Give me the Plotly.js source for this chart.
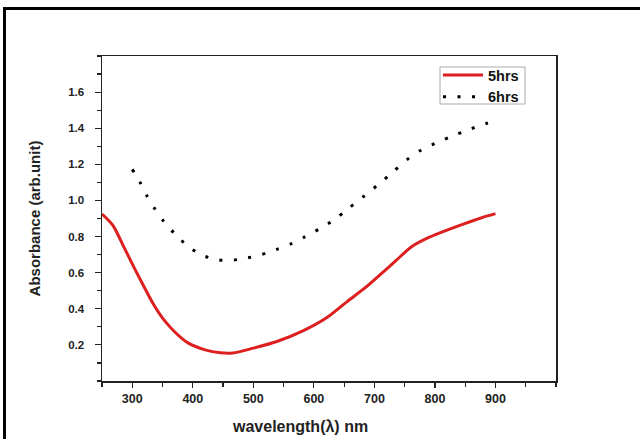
<!DOCTYPE html>
<html>
<head>
<meta charset="utf-8">
<script src="https://cdn.plot.ly/plotly-3.0.1.min.js"></script>
<style>html,body{margin:0;padding:0;background:#fff;}#chart{width:640px;height:439px;}</style>
</head>
<body>
<div id="chart"></div>
<script>
// 5hrs series
var wl5 = [250,268,285,302,319,335,352,372,392,419,446,466,500,540,581,621,655,688,710,735,762,790,820,849,876,900];
var abs5 = [0.925,0.862,0.75,0.635,0.525,0.425,0.34,0.266,0.211,0.174,0.156,0.155,0.182,0.22,0.276,0.35,0.44,0.525,0.59,0.665,0.745,0.795,0.836,0.872,0.903,0.927];
// 6hrs series
var wl6 = [300,312,323,337,352,370,392,416,441,464,489,513,538,562,585,610,634,657,681,706,730,754,778,802,826,849,874,898];
var abs6 = [1.172,1.106,1.032,0.955,0.884,0.816,0.746,0.696,0.672,0.669,0.681,0.70,0.728,0.759,0.798,0.844,0.894,0.955,1.019,1.087,1.156,1.226,1.281,1.318,1.353,1.383,1.414,1.44];
// tick labels
var xTicks = [300,400,500,600,700,800,900];
var yTicks = [0.2,0.4,0.6,0.8,1.0,1.2,1.4,1.6];
var yTickText = ['0.2','0.4','0.6','0.8','1.0','1.2','1.4','1.6'];
var seriesNames = ['5hrs','6hrs'];
var xTitle = 'wavelength(λ) nm';
var yTitle = 'Absorbance (arb.unit)';

var F = '"Liberation Sans", Arial, sans-serif';
var traces = [
  {x: wl5, y: abs5, name: seriesNames[0], mode: 'lines',
   line: {color: '#dd1f1f', width: 3, shape: 'spline', smoothing: 0.8}},
  {x: wl6, y: abs6, name: seriesNames[1], mode: 'lines',
   line: {color: '#000', width: 3, dash: '3px,11.5px', shape: 'spline', smoothing: 0.8}}
];
var L = 102, R = 84, T = 56, B = 58;
var W = 640 - L - R, H = 439 - T - B;
function px(x){return (x - L) / W;}
function py(y){return (439 - B - y) / H;}
var layout = {
  width: 640, height: 439,
  margin: {l: L, r: R, t: T, b: B},
  paper_bgcolor: '#fff', plot_bgcolor: '#fff',
  showlegend: true,
  legend: {x: px(438), y: py(59), xanchor: 'left', yanchor: 'top',
    borderwidth: 0, bgcolor: 'rgba(0,0,0,0)', itemwidth: 40,
    font: {family: F, size: 14.5, color: '#111', weight: 'bold'},
    tracegroupgap: 0},
  xaxis: {range: [250, 1000], tickvals: xTicks, ticks: 'outside', ticklen: 5, tickwidth: 1.2,
    tickcolor: '#222', showline: true, linecolor: '#222', linewidth: 1.5, mirror: true,
    showgrid: false, zeroline: false,
    tickfont: {family: F, size: 12.5, color: '#222', weight: 'bold'},
    minor: {dtick: 50, tick0: 250, ticks: 'outside', ticklen: 4, tickwidth: 1.2, tickcolor: '#222'}},
  yaxis: {range: [0, 1.8], tickvals: yTicks, ticktext: yTickText, ticks: 'outside', ticklen: 6, tickwidth: 1.2,
    tickcolor: '#222', showline: true, linecolor: '#222', linewidth: 1.5, mirror: true,
    showgrid: false, zeroline: false, ticklabelstandoff: 8,
    tickfont: {family: F, size: 11.5, color: '#222', weight: 'bold'},
    minor: {dtick: 0.1, tick0: 0, ticks: 'outside', ticklen: 4, tickwidth: 1.2, tickcolor: '#222'},
    title: {text: yTitle, standoff: 24, font: {family: F, size: 15, color: '#222', weight: 'bold'}}},
  annotations: [
    {text: xTitle, xref: 'paper', yref: 'paper', x: px(300), y: py(426), xanchor: 'center', yanchor: 'middle',
     showarrow: false, font: {family: F, size: 16, color: '#222', weight: 'bold'}}
  ],
  shapes: [
    {type: 'line', xref: 'paper', yref: 'paper', x0: px(3), x1: px(641), y0: py(8.5), y1: py(8.5), line: {color: '#000', width: 3}},
    {type: 'line', xref: 'paper', yref: 'paper', x0: px(4.5), x1: px(4.5), y0: py(7), y1: py(440), line: {color: '#000', width: 3}},
    {type: 'rect', xref: 'paper', yref: 'paper', x0: px(440), x1: px(525), y0: py(67), y1: py(104), line: {color: '#aaa', width: 1}}
  ]
};
Plotly.newPlot('chart', traces, layout, {displayModeBar: false, staticPlot: true});
</script>
</body>
</html>
